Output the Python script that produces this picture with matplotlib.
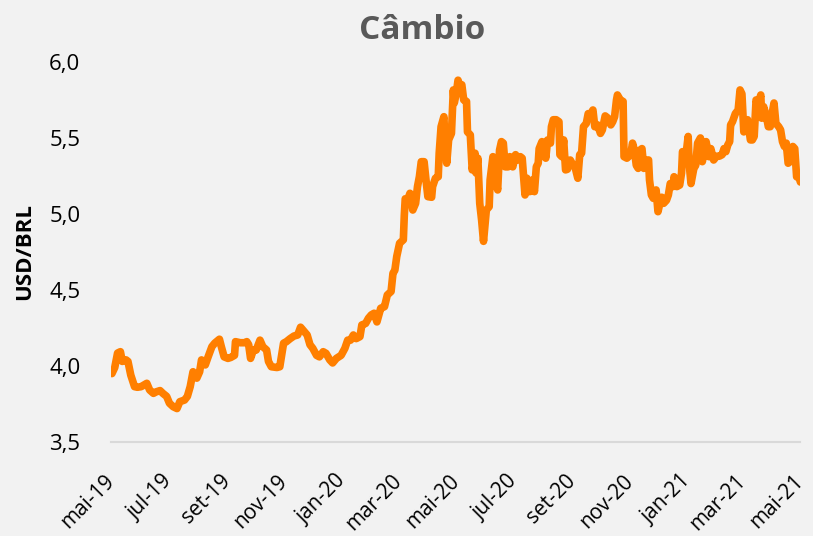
import numpy as np
import matplotlib
matplotlib.use('Agg')
import matplotlib.pyplot as plt

plt.rcParams['font.family'] = ['Open Sans', 'DejaVu Sans']

# Dias corridos desde 01/05/2019 e cotacao USD/BRL
dias = [1, 4, 7, 10, 12, 16, 18, 21, 25, 28, 32, 35, 38, 41, 45, 48, 52, 55, 59, 62,
        66, 70, 73, 78, 81, 84, 87, 91, 94, 96, 100, 103, 107, 110, 115, 117, 120, 124, 127, 131,
        132, 137, 142, 144, 146, 148, 151, 154, 158, 161, 165, 167, 170, 176, 179, 183, 186, 190, 194, 198,
        201, 205, 208, 211, 214, 218, 221, 225, 228, 232, 235, 239, 244, 248, 251, 254, 257, 260, 264, 266,
        270, 273, 276, 279, 282, 286, 290, 293, 297, 299, 301, 303, 306, 310, 311, 312, 315, 317, 320, 323,
        325, 327, 329, 332, 334, 336, 340, 341, 344, 347, 348, 350, 353, 354, 356, 358, 361, 363, 364, 366,
        368, 370, 372, 374, 377, 378, 381, 383, 386, 387, 389, 391, 393, 395, 398, 401, 402, 405, 408, 410,
        412, 414, 416, 418, 421, 423, 426, 429, 431, 434, 436, 439, 441, 444, 447, 449, 451, 453, 454, 457,
        460, 461, 463, 466, 467, 469, 472, 475, 476, 478, 480, 482, 484, 487, 490, 492, 495, 497, 499, 501,
        504, 506, 508, 511, 513, 516, 519, 521, 524, 527, 530, 532, 534, 536, 537, 540, 543, 544, 547, 551,
        553, 555, 557, 559, 561, 563, 565, 567, 570, 571, 573, 575, 578, 580, 582, 584, 586, 589, 591, 593,
        596, 597, 600, 603, 605, 606, 609, 612, 613, 615, 618, 620, 622, 625, 627, 629, 631, 634, 636, 639,
        642, 645, 648, 650, 652, 654, 656, 657, 659, 662, 665, 667, 669, 671, 673, 675, 678, 680, 682, 684,
        686, 689, 690, 692, 695, 697, 699, 701, 703, 705, 708, 710, 712, 714, 716, 718, 720, 723, 725, 727,
        730, 731]

cambio = [3.95, 3.99, 4.085, 4.094, 4.03, 4.04, 4.03, 3.94, 3.864, 3.86, 3.864, 3.875, 3.886, 3.842, 3.82, 3.83, 3.838, 3.82, 3.80, 3.755,
          3.732, 3.72, 3.765, 3.776, 3.80, 3.864, 3.962, 3.92, 3.962, 4.04, 4.007, 4.06, 4.127, 4.15, 4.176, 4.127, 4.06, 4.05, 4.056, 4.07,
          4.16, 4.153, 4.153, 4.16, 4.14, 4.05, 4.105, 4.105, 4.17, 4.127, 4.105, 4.03, 3.995, 3.99, 3.995, 4.15, 4.16, 4.18, 4.197, 4.204,
          4.255, 4.226, 4.204, 4.14, 4.116, 4.07, 4.06, 4.094, 4.083, 4.04, 4.02, 4.05, 4.07, 4.116, 4.17, 4.17, 4.204, 4.18, 4.193, 4.27,
          4.28, 4.314, 4.336, 4.347, 4.29, 4.38, 4.39, 4.467, 4.49, 4.61, 4.63, 4.72, 4.807, 4.83, 4.99, 5.10, 5.10, 5.136, 5.026, 5.07,
          5.18, 5.245, 5.344, 5.344, 5.224, 5.114, 5.11, 5.18, 5.235, 5.245, 5.40, 5.574, 5.64, 5.487, 5.334, 5.487, 5.53, 5.816, 5.73, 5.79,
          5.88, 5.84, 5.85, 5.75, 5.74, 5.54, 5.52, 5.29, 5.40, 5.27, 5.367, 5.07, 4.96, 4.82, 5.026, 5.048, 5.224, 5.377, 5.224, 5.158,
          5.42, 5.476, 5.466, 5.31, 5.31, 5.377, 5.31, 5.39, 5.355, 5.377, 5.367, 5.125, 5.235, 5.147, 5.224, 5.147, 5.31, 5.334, 5.43, 5.476,
          5.40, 5.367, 5.487, 5.466, 5.574, 5.62, 5.62, 5.607, 5.39, 5.377, 5.487, 5.29, 5.294, 5.355, 5.32, 5.31, 5.235, 5.39, 5.40, 5.574,
          5.596, 5.66, 5.65, 5.684, 5.574, 5.586, 5.53, 5.553, 5.645, 5.63, 5.586, 5.607, 5.64, 5.75, 5.783, 5.75, 5.74, 5.377, 5.367, 5.39,
          5.466, 5.42, 5.32, 5.30, 5.42, 5.43, 5.30, 5.355, 5.355, 5.224, 5.125, 5.103, 5.158, 5.015, 5.07, 5.11, 5.07, 5.09, 5.125, 5.20,
          5.18, 5.245, 5.18, 5.19, 5.27, 5.41, 5.355, 5.51, 5.334, 5.20, 5.30, 5.32, 5.466, 5.50, 5.344, 5.42, 5.476, 5.377, 5.43, 5.355,
          5.38, 5.38, 5.39, 5.43, 5.41, 5.454, 5.476, 5.586, 5.607, 5.66, 5.684, 5.816, 5.79, 5.54, 5.553, 5.62, 5.487, 5.487, 5.51, 5.75,
          5.717, 5.783, 5.63, 5.706, 5.64, 5.574, 5.574, 5.66, 5.73, 5.596, 5.574, 5.553, 5.476, 5.444, 5.466, 5.334, 5.344, 5.444, 5.43, 5.245,
          5.235, 5.21]

meses_ticks = ['2019-05-01', '2019-07-01', '2019-09-01', '2019-11-01', '2020-01-01', '2020-03-01', '2020-05-01',
               '2020-07-01', '2020-09-01', '2020-11-01', '2021-01-01', '2021-03-01', '2021-05-01']
rotulos = ['mai-19', 'jul-19', 'set-19', 'nov-19', 'jan-20', 'mar-20', 'mai-20',
           'jul-20', 'set-20', 'nov-20', 'jan-21', 'mar-21', 'mai-21']
yticks = [3.5, 4.0, 4.5, 5.0, 5.5, 6.0]

inicio = np.datetime64('2019-05-01')
datas = inicio + np.array(dias).astype('timedelta64[D]')

fundo = '#F2F2F2'
fig = plt.figure(figsize=(8.13, 5.36), dpi=100, facecolor=fundo)
ax = fig.add_axes([0.1365, 0.1754, 0.848, 0.709], facecolor=fundo)

ax.plot(datas, cambio, color='#FF7F00', lw=5.5, solid_joinstyle='round', solid_capstyle='round')

ax.set_xlim(inicio, np.datetime64('2021-05-01'))
ax.set_ylim(3.5, 6.0)
ax.set_yticks(yticks)
ax.set_yticklabels([f'{v:.1f}'.replace('.', ',') for v in yticks], fontsize=16)
ax.set_xticks(np.array(meses_ticks, dtype='datetime64[D]'))
ax.set_xticklabels(rotulos, fontsize=15, rotation=45, ha='right', va='center', rotation_mode='anchor')

for s in ['top', 'right', 'left']:
    ax.spines[s].set_visible(False)
ax.spines['bottom'].set_color('#D9D9D9')
ax.spines['bottom'].set_linewidth(1.5)
ax.tick_params(axis='both', length=0)
ax.tick_params(axis='x', pad=26)
ax.tick_params(axis='y', pad=22)

ax.set_ylabel('USD/BRL', fontsize=16, fontweight='bold', labelpad=10)
fig.text(0.519, 0.944, 'Câmbio', fontsize=24, fontweight='bold', color='#595959',
         ha='center', va='center')

fig.savefig('out.png', dpi=100, facecolor=fundo)
